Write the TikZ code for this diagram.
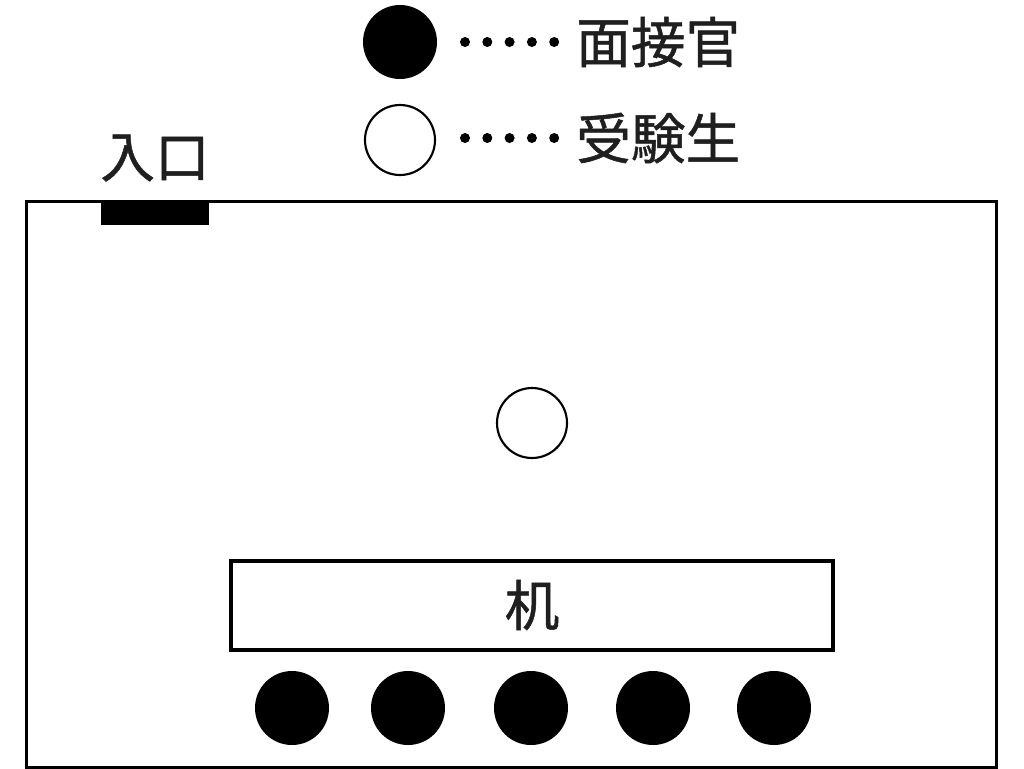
\documentclass[tikz,border=0pt]{standalone}
\usepackage{fontspec}
\newfontface\cjk[FakeBold=0.9]{Noto Sans CJK JP}
\begin{document}
\begin{tikzpicture}[x=0.75pt,y=-0.75pt,
  lbl/.style={font=\cjk\fontsize{41}{41}\selectfont, inner sep=0pt, text=black!88},
  staff/.style={circle, fill=black, minimum size=74*0.75pt, inner sep=0pt},
  cand/.style={circle, draw=black, line width=1.6pt, fill=white, minimum size=70*0.75pt, inner sep=0pt},
  dot/.style={circle, fill=black, minimum size=10*0.75pt, inner sep=0pt},
  wall/.style={draw=black, line width=2.4pt},
  deskbox/.style={draw=black, line width=2.4pt, fill=white}]
\useasboundingbox (0,0) rectangle (1024,768);
% room
\node[wall, rectangle, minimum width=970*0.75pt, minimum height=566*0.75pt, inner sep=0pt, anchor=north west] (room) at (25,200) {};
% entrance
\node[rectangle, fill=black, minimum width=108*0.75pt, minimum height=25*0.75pt, inner sep=0pt, anchor=north west] (door) at (101,200) {};
\node[lbl] (doorlbl) at (155,158) {入口};
% legend
\node[staff] (lgstaff) at (400,42) {};
\node[cand] (lgcand) at (400,140) {};
\foreach \i in {0,...,4} {
  \node[dot] (da\i) at (465+22.3*\i,42) {};
  \node[dot] (db\i) at (465+22.3*\i,138) {};
}
\node[lbl, anchor=west] (lgstafflbl) at (576,42) {面接官};
\node[lbl, anchor=west] (lgcandlbl) at (576,138) {受験生};
% candidate
\node[cand] (candidate) at (532,423) {};
% desk
\node[deskbox, rectangle, minimum width=602*0.75pt, minimum height=89*0.75pt, inner sep=0pt] (desk) at (532,605.5) {};
\node[lbl] (desklbl) at (532,605) {机};
% interviewers
\node[staff] (s1) at (292,708) {};
\node[staff] (s2) at (408,708) {};
\node[staff] (s3) at (531,708) {};
\node[staff] (s4) at (653,708) {};
\node[staff] (s5) at (774,708) {};
\end{tikzpicture}
\end{document}
